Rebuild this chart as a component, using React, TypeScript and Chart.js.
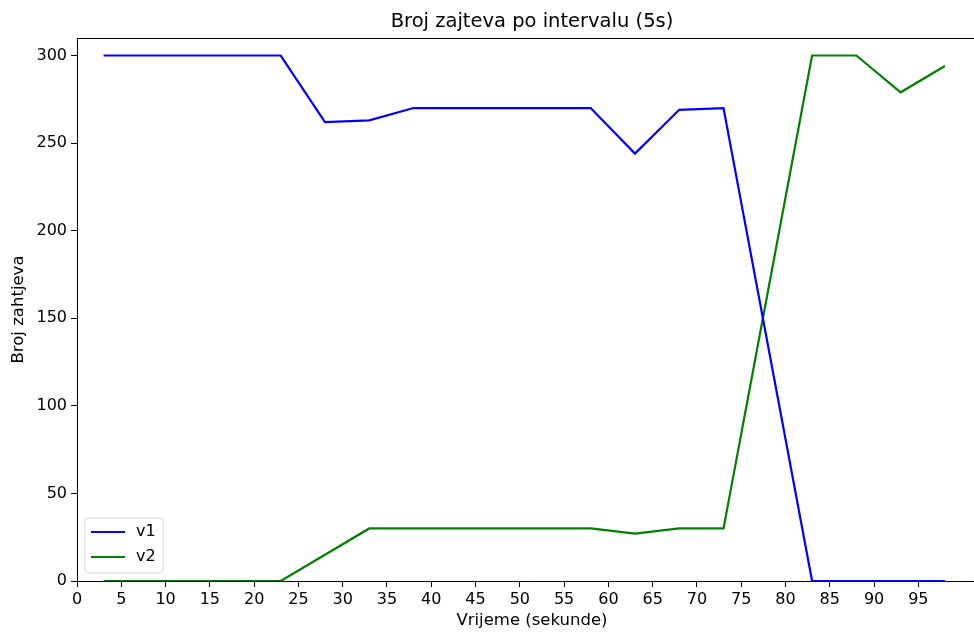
import React, { useEffect, useRef } from "react";
import { Chart, registerables } from "chart.js";

Chart.register(...registerables);

const titleText = "Broj zajteva po intervalu (5s)";
const xTitle = "Vrijeme (sekunde)";
const yTitle = "Broj zahtjeva";
const times = [3, 8, 13, 18, 23, 28, 33, 38, 43, 48, 53, 58, 63, 68, 73, 78, 83, 88, 93, 98];
const v1 = [300, 300, 300, 300, 300, 262, 263, 270, 270, 270, 270, 270, 244, 269, 270, 135, 0, 0, 0, 0];
const v2 = [0, 0, 0, 0, 0, 15, 30, 30, 30, 30, 30, 30, 27, 30, 30, 165, 300, 300, 279, 294];
const xTicks = [0, 5, 10, 15, 20, 25, 30, 35, 40, 45, 50, 55, 60, 65, 70, 75, 80, 85, 90, 95];
const yTicks = [0, 50, 100, 150, 200, 250, 300];

const FONT = "'DejaVu Sans', sans-serif";

const framePlugin = {
  id: "frameAndLegend",
  afterDraw(chart: any) {
    const { ctx, chartArea } = chart;
    ctx.save();
    // top & right spines
    ctx.strokeStyle = "#000";
    ctx.lineWidth = 1;
    ctx.beginPath();
    ctx.moveTo(chartArea.left, chartArea.top + 0.5);
    ctx.lineTo(chartArea.right, chartArea.top + 0.5);
    ctx.moveTo(chartArea.right - 0.5, chartArea.top);
    ctx.lineTo(chartArea.right - 0.5, chartArea.bottom);
    ctx.stroke();

    // legend (lower left inside the plot)
    const bx = chartArea.left + 8;
    const by = chartArea.bottom - 8 - 55;
    const bw = 78;
    const bh = 55;
    const r = 3;
    ctx.beginPath();
    ctx.moveTo(bx + r, by);
    ctx.lineTo(bx + bw - r, by);
    ctx.arcTo(bx + bw, by, bx + bw, by + r, r);
    ctx.lineTo(bx + bw, by + bh - r);
    ctx.arcTo(bx + bw, by + bh, bx + bw - r, by + bh, r);
    ctx.lineTo(bx + r, by + bh);
    ctx.arcTo(bx, by + bh, bx, by + bh - r, r);
    ctx.lineTo(bx, by + r);
    ctx.arcTo(bx, by, bx + r, by, r);
    ctx.closePath();
    ctx.fillStyle = "rgba(255,255,255,0.8)";
    ctx.fill();
    ctx.strokeStyle = "#d6d6d6";
    ctx.lineWidth = 1;
    ctx.stroke();

    chart.data.datasets.forEach((ds: any, i: number) => {
      const ly = by + 14 + i * 25;
      ctx.strokeStyle = ds.borderColor;
      ctx.lineWidth = 2;
      ctx.beginPath();
      ctx.moveTo(bx + 6, ly);
      ctx.lineTo(bx + 40, ly);
      ctx.stroke();
      ctx.fillStyle = "#000";
      ctx.font = `16px ${FONT}`;
      ctx.textAlign = "left";
      ctx.textBaseline = "middle";
      ctx.fillText(ds.label, bx + 51, ly);
    });
    ctx.restore();
  },
};

export default function App() {
  const ref = useRef<HTMLCanvasElement>(null);
  useEffect(() => {
    if (!ref.current) return;
    const chart = new Chart(ref.current, {
      type: "line",
      data: {
        datasets: [
          {
            label: "v1",
            data: times.map((t, i) => ({ x: t, y: v1[i] })),
            borderColor: "#0000ff",
            backgroundColor: "#0000ff",
            borderWidth: 2.2,
            pointRadius: 0,
            tension: 0,
          },
          {
            label: "v2",
            data: times.map((t, i) => ({ x: t, y: v2[i] })),
            borderColor: "#008000",
            backgroundColor: "#008000",
            borderWidth: 2.2,
            pointRadius: 0,
            tension: 0,
          },
        ],
      },
      options: {
        animation: false,
        responsive: false,
        maintainAspectRatio: false,
        layout: { padding: { left: 0, right: 73, top: 0, bottom: 0 } },
        plugins: {
          legend: { display: false },
          tooltip: { enabled: false },
          title: {
            display: true,
            text: titleText,
            fullSize: false,
            color: "#000",
            font: { family: FONT, size: 19.5, weight: "normal" },
            padding: { top: 10, bottom: 4.6 },
          },
        },
        scales: {
          x: {
            type: "linear",
            min: 0,
            max: 102.75,
            afterBuildTicks: (s: any) => {
              s.ticks = xTicks.map((v) => ({ value: v }));
            },
            afterFit: (s: any) => {
              s.height = 51;
            },
            ticks: {
              color: "#000",
              font: { family: FONT, size: 16 },
              padding: 3.5,
              maxRotation: 0,
              autoSkip: false,
            },
            grid: { display: true, drawOnChartArea: false, drawTicks: true, tickLength: 6, color: "#000" },
            border: { display: true, color: "#000", width: 1 },
            title: {
              display: true,
              text: xTitle,
              color: "#000",
              font: { family: FONT, size: 16.5 },
              padding: { top: 0, bottom: 1.5 },
            },
          },
          y: {
            type: "linear",
            min: 0,
            max: 310,
            afterBuildTicks: (s: any) => {
              s.ticks = yTicks.map((v) => ({ value: v }));
            },
            afterFit: (s: any) => {
              s.width = 77;
            },
            ticks: {
              color: "#000",
              font: { family: FONT, size: 16 },
              padding: 4,
            },
            grid: { display: true, drawOnChartArea: false, drawTicks: true, tickLength: 6, color: "#000" },
            border: { display: true, color: "#000", width: 1 },
            title: {
              display: true,
              text: yTitle,
              color: "#000",
              font: { family: FONT, size: 16.5 },
              padding: { top: 8.5, bottom: 0 },
            },
          },
        },
      },
      plugins: [framePlugin],
    });
    return () => chart.destroy();
  }, []);
  return (
    <div style={{ position: "absolute", left: 0, top: 0, width: 974, height: 632, overflow: "hidden", background: "#fff" }}>
      <canvas ref={ref} width={1060} height={632} style={{ width: 1060, height: 632, display: "block" }} />
    </div>
  );
}
